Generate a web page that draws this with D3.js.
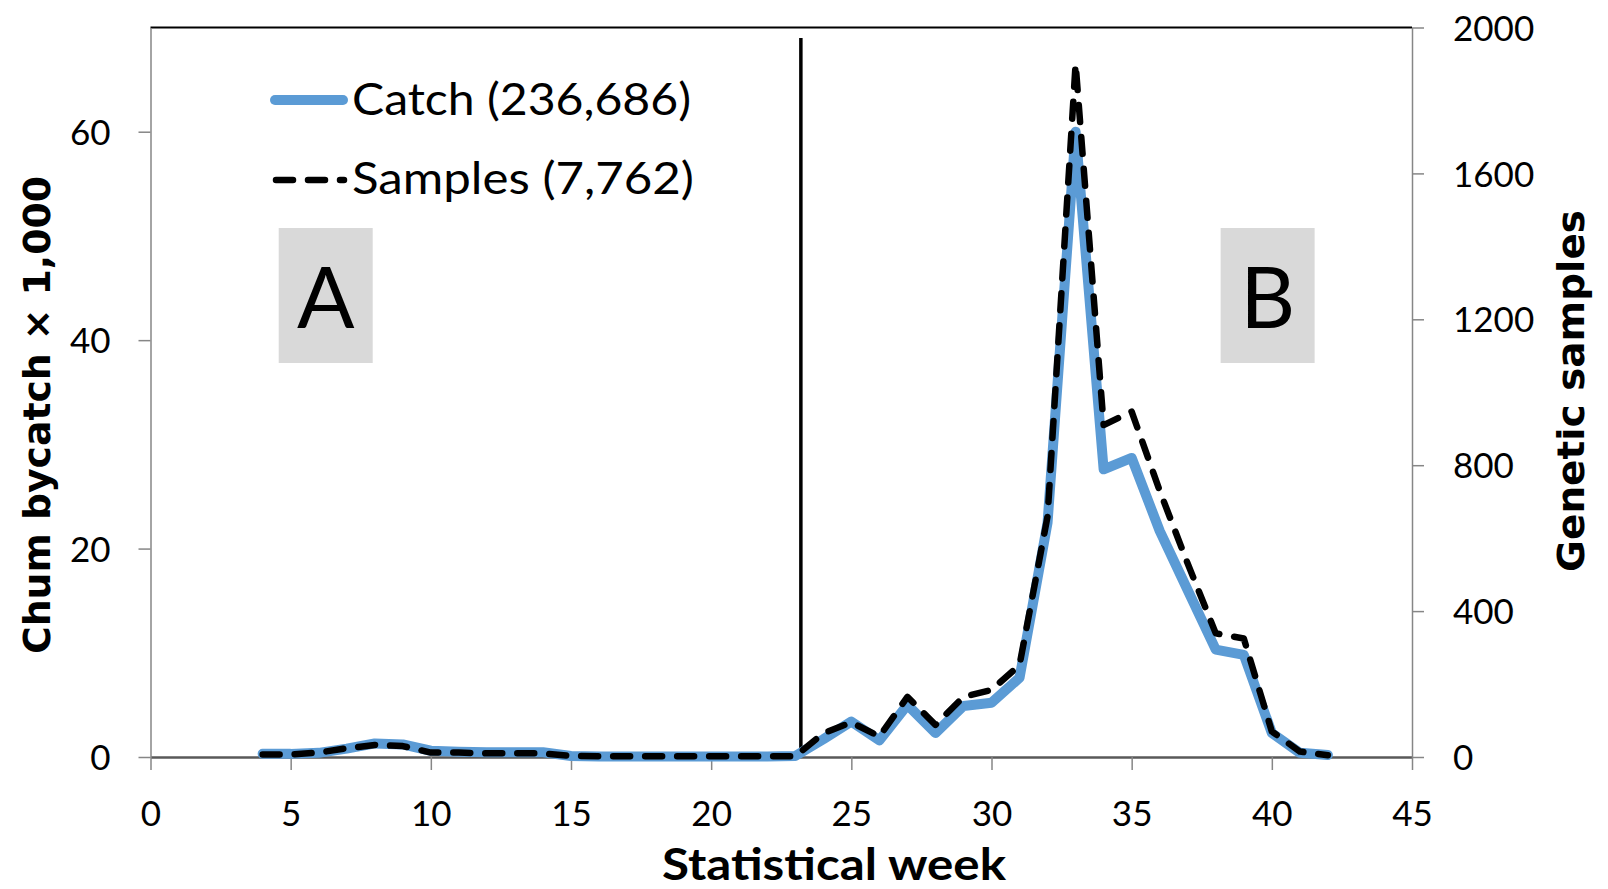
<!DOCTYPE html>
<html>
<head>
<meta charset="utf-8">
<script src="https://cdn.jsdelivr.net/npm/d3@7/dist/d3.min.js"></script>
<style>
  html, body { margin: 0; padding: 0; background: #fff; }
  svg { display: block; }
  .tick text { font-family: Lato, "Open Sans", sans-serif; font-size: 35px; fill: #000; }
</style>
</head>
<body>
<svg id="chart" width="1608" height="889"></svg>
<script>
// ---- data ----
const weeks = [4,5,6,7,8,9,10,11,12,13,14,15,16,17,18,19,20,21,22,23,24,25,26,27,28,29,30,31,32,33,34,35,36,37,38,39,40,41,42];
const catchK = [0.3,0.3,0.4,0.8,1.3,1.2,0.6,0.5,0.45,0.45,0.45,0.1,0.05,0.05,0.05,0.05,0.05,0.05,0.05,0.1,1.7,3.4,1.6,5.0,2.3,4.9,5.2,7.6,22.5,60,27.6,28.7,21.7,16.0,10.3,9.8,2.3,0.4,0.2];
const samples = [7,7,12,24,33,30,12,12,10,10,10,3,2,2,2,2,2,2,2,2,65,95,56,165,88,165,184,252,660,1900,910,947,730,530,339,325,70,15,5];
const xTicks = [0,5,10,15,20,25,30,35,40,45];
const leftTicks = [0,20,40,60];
const rightTicks = [0,400,800,1200,1600,2000];
const dividerWeek = 23.2;
const legendLabels = ["Catch (236,686)", "Samples (7,762)"];
const panelLabels = ["A", "B"];
const panelWeeks = [6.25, 39.85];
const xTitle = "Statistical week";
const yLeftTitle = "Chum bycatch \u00d7 1,000";
const yRightTitle = "Genetic samples";

// ---- layout ----
const L = 150.5, R = 1412, T = 27.5, B = 757;
const svg = d3.select("#chart");

const x = d3.scaleLinear().domain([0, 45]).range([L, R]);
const yL = d3.scaleLinear().domain([0, 70]).range([B, T]);
const yR = d3.scaleLinear().domain([0, 2000]).range([B, T]);

// top border
svg.append("line").attr("x1", L).attr("x2", R).attr("y1", T).attr("y2", T)
  .attr("stroke", "#000").attr("stroke-width", 2);

// panel boxes
const boxW = 94, boxTop = 228, boxBot = 363;
panelLabels.forEach((lab, i) => {
  const cx = x(panelWeeks[i]);
  svg.append("rect").attr("x", cx - boxW / 2).attr("y", boxTop)
    .attr("width", boxW).attr("height", boxBot - boxTop).attr("fill", "#d9d9d9");
  svg.append("text").attr("x", cx).attr("y", 328).attr("text-anchor", "middle")
    .attr("font-family", "Lato, 'Open Sans', sans-serif").attr("font-size", 85)
    .attr("fill", "#000").text(lab);
});

// axes
const gx = svg.append("g").attr("transform", `translate(0,${B})`)
  .call(d3.axisBottom(x).tickValues(xTicks).tickSize(13).tickSizeOuter(0).tickPadding(31).tickFormat(d3.format("d")));
gx.select(".domain").attr("stroke", "#595959").attr("stroke-width", 2.5);
gx.selectAll(".tick line").attr("stroke", "#868686").attr("stroke-width", 1.5);

const gl = svg.append("g").attr("transform", `translate(${L},0)`)
  .call(d3.axisLeft(yL).tickValues(leftTicks).tickSize(12).tickSizeOuter(0).tickPadding(28).tickFormat(d3.format("d")));
gl.select(".domain").attr("stroke", "#868686").attr("stroke-width", 1.5);
gl.selectAll(".tick line").attr("stroke", "#868686").attr("stroke-width", 1.5);
gl.selectAll(".tick text").attr("dy", "0.36em");

const gr = svg.append("g").attr("transform", `translate(${R},0)`)
  .call(d3.axisRight(yR).tickValues(rightTicks).tickSize(12).tickSizeOuter(0).tickPadding(29).tickFormat(d3.format("d")));
gr.select(".domain").attr("stroke", "#868686").attr("stroke-width", 1.5);
gr.selectAll(".tick line").attr("stroke", "#868686").attr("stroke-width", 1.5);
gr.selectAll(".tick text").attr("dy", "0.36em");

// divider line
svg.append("line").attr("x1", x(dividerWeek)).attr("x2", x(dividerWeek))
  .attr("y1", 38).attr("y2", B).attr("stroke", "#000").attr("stroke-width", 3.5);

// series
const catchLine = d3.line().x((d, i) => x(weeks[i])).y(d => yL(d));
const sampleLine = d3.line().x((d, i) => x(weeks[i])).y(d => yR(d));

svg.append("path").datum(catchK).attr("d", catchLine)
  .attr("fill", "none").attr("stroke", "#5b9bd5").attr("stroke-width", 10)
  .attr("stroke-linejoin", "round").attr("stroke-linecap", "round");

svg.append("path").datum(samples).attr("d", sampleLine)
  .attr("fill", "none").attr("stroke", "#000").attr("stroke-width", 6.5)
  .attr("stroke-dasharray", "17 15").attr("stroke-linejoin", "round").attr("stroke-linecap", "round");

// legend
svg.append("line").attr("x1", 275).attr("x2", 343).attr("y1", 100).attr("y2", 100)
  .attr("stroke", "#5b9bd5").attr("stroke-width", 10).attr("stroke-linecap", "round");
svg.append("line").attr("x1", 276).attr("x2", 344).attr("y1", 180).attr("y2", 180)
  .attr("stroke", "#000").attr("stroke-width", 6.5).attr("stroke-dasharray", "17 15")
  .attr("stroke-linecap", "round");
[[115, 339], [194, 342]].forEach(([yb, len], i) => {
  svg.append("text").attr("x", 352).attr("y", yb)
    .attr("font-family", "Lato, 'Open Sans', sans-serif").attr("font-size", 44)
    .attr("textLength", len).attr("lengthAdjust", "spacingAndGlyphs")
    .attr("fill", "#000").text(legendLabels[i]);
});

// axis titles
svg.append("text").attr("x", 834).attr("y", 880).attr("text-anchor", "middle")
  .attr("font-family", "Lato, 'Open Sans', sans-serif").attr("font-weight", "bold")
  .attr("font-size", 44).attr("textLength", 344).attr("lengthAdjust", "spacingAndGlyphs")
  .attr("fill", "#000").text(xTitle);

svg.append("text").attr("transform", "translate(37,415) rotate(-90)")
  .attr("text-anchor", "middle").attr("dominant-baseline", "central")
  .attr("font-family", "'DejaVu Sans', sans-serif").attr("font-weight", "bold")
  .attr("font-size", 38).attr("textLength", 478).attr("lengthAdjust", "spacingAndGlyphs")
  .attr("fill", "#000").text(yLeftTitle);

svg.append("text").attr("transform", "translate(1571,391) rotate(-90)")
  .attr("text-anchor", "middle").attr("dominant-baseline", "central")
  .attr("font-family", "'DejaVu Sans', sans-serif").attr("font-weight", "bold")
  .attr("font-size", 38).attr("textLength", 362).attr("lengthAdjust", "spacingAndGlyphs")
  .attr("fill", "#000").text(yRightTitle);
</script>
</body>
</html>
